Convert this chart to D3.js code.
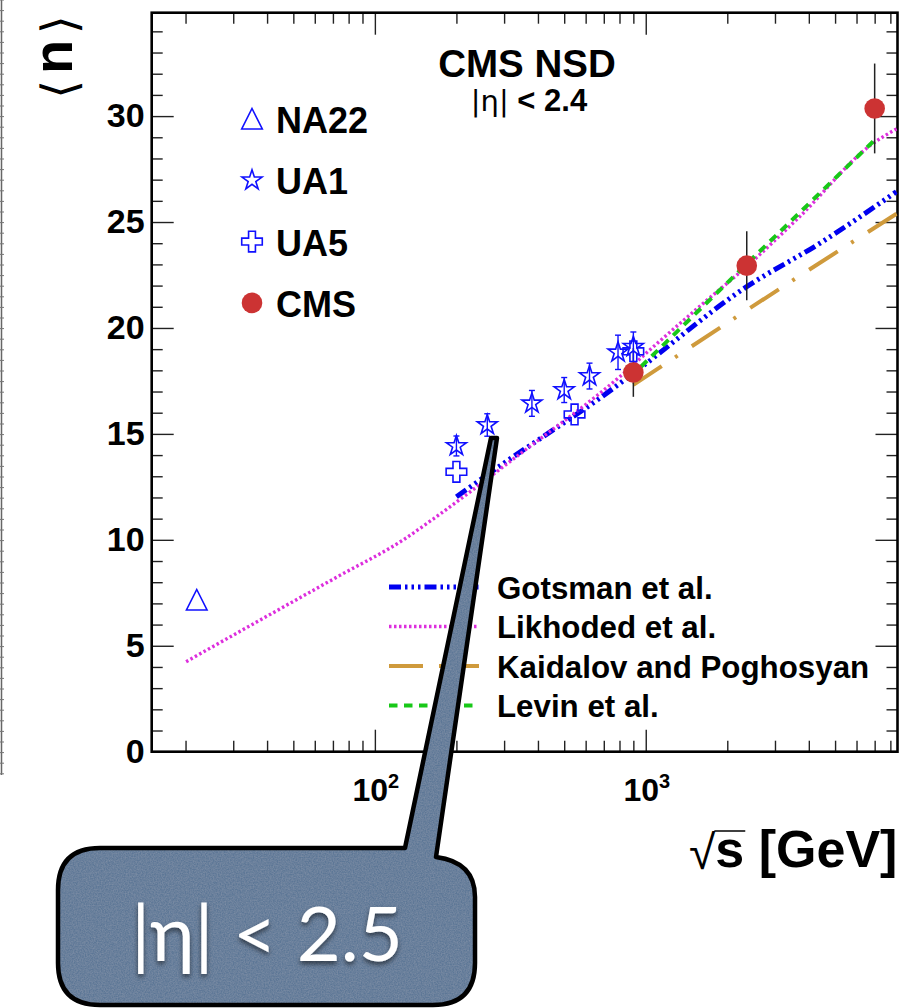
<!DOCTYPE html>
<html>
<head>
<meta charset="utf-8">
<script src="https://cdn.jsdelivr.net/npm/d3@7"></script>
<style>
body { margin: 0; background: #fff; }
svg { display: block; }
text { font-family: "Liberation Sans", Arial, Helvetica, sans-serif; }
</style>
</head>
<body>
<script>
// measurements, <n> vs sqrt(s) [GeV]
var na22Energy = [22];
var na22Mult = [7.16];

var ua1Energy = [200, 260, 380, 500, 620, 790, 900];
var ua1Mult = [14.43, 15.42, 16.44, 17.07, 17.73, 18.85, 19.11];
var ua1Err = [0.47, 0.53, 0.61, 0.59, 0.61, 0.81, 0.7];

var ua5Energy = [200, 546, 900];
var ua5Mult = [13.21, 15.92, 18.9];

var cmsEnergy = [900, 2360, 7000];
var cmsMult = [17.9, 22.94, 30.36];
var cmsErr = [1.15, 1.63, 2.12];

// model curves, [sqrt(s), <n>]
var gotsmanCurve = [[200, 12.03], [324, 13.92], [418, 14.87], [676, 16.68], [900, 17.86],
    [2352, 21.94], [4385, 23.99], [8420, 26.43]];
var likhodedCurve = [[20.1, 4.25], [42, 6.55], [74, 8.31], [127, 9.99], [164, 10.98],
    [343, 14.05], [802, 17.7], [1064, 19.1], [1626, 21.15], [2352, 22.89],
    [3698, 25.25], [6900, 28.71], [8500, 29.42]];
var kaidalovCurve = [[900, 17.31], [2420, 20.93], [8500, 25.42]];
var levinCurve = [[960, 18.17], [2350, 23.0], [7000, 28.87]];

var xMajorTicks = [100, 1000];
var xMinorTicks = [20, 30, 40, 50, 60, 70, 80, 90, 200, 300, 400, 500, 600, 700, 800, 900,
    2000, 3000, 4000, 5000, 6000, 7000, 8000];
var yLabelTicks = [0, 5, 10, 15, 20, 25, 30];

var markerLegend = ["NA22", "UA1", "UA5", "CMS"];
var modelLegend = ["Gotsman et al.", "Likhoded et al.", "Kaidalov and Poghosyan", "Levin et al."];

var _width = 908, _height = 1008,
    _margins = {top: 12.7, left: 151.7, right: 10.5, bottom: 256.3};

var blue = "#1010ff", red = "#cc3333";

var modelStyles = [
    {color: "#0000f0", width: 5, dash: "12,4,2.5,4,2.5,4,2.5,4"},
    {color: "#dd2edd", width: 3.4, dash: "2.5,2.5"},
    {color: "#cf9a3c", width: 4, dash: "34,16,3,17"},
    {color: "#18c818", width: 4, dash: "8.5,6.5"}
];
var modelCurves = [gotsmanCurve, likhodedCurve, kaidalovCurve, levinCurve];

function xStart() { return _margins.left; }
function xEnd() { return _width - _margins.right; }
function yStart() { return _height - _margins.bottom; }
function yEnd() { return _margins.top; }

var x = d3.scaleLog().domain([15, 8500]).range([xStart(), xEnd()]);
var y = d3.scaleLinear().domain([0, 34.88]).range([yStart(), yEnd()]);

var svg = d3.select("body").append("svg")
    .attr("width", _width)
    .attr("height", _height);

var defs = svg.append("defs");

defs.append("clipPath")
    .attr("id", "body-clip")
    .append("rect")
    .attr("x", xStart())
    .attr("y", yEnd())
    .attr("width", xEnd() - xStart())
    .attr("height", yStart() - yEnd());

var grain = defs.append("filter").attr("id", "grain")
    .attr("x", 0).attr("y", 0).attr("width", 1).attr("height", 1);
grain.append("feTurbulence")
    .attr("type", "fractalNoise")
    .attr("baseFrequency", 0.75)
    .attr("numOctaves", 2)
    .attr("seed", 3)
    .attr("result", "noise");
grain.append("feColorMatrix")
    .attr("in", "noise")
    .attr("type", "matrix")
    .attr("values", "0 0 0 0 1  0 0 0 0 1  0 0 0 0 1  0 0 0 0.16 -0.04")
    .attr("result", "speck");
grain.append("feComposite")
    .attr("in", "speck").attr("in2", "SourceGraphic")
    .attr("operator", "in").attr("result", "speckIn");
var gm = grain.append("feMerge");
gm.append("feMergeNode").attr("in", "SourceGraphic");
gm.append("feMergeNode").attr("in", "speckIn");

var shadow = defs.append("filter").attr("id", "txtShadow")
    .attr("x", "-10%").attr("y", "-20%").attr("width", "120%").attr("height", "150%");
shadow.append("feDropShadow")
    .attr("dx", 0).attr("dy", 3).attr("stdDeviation", 2.5)
    .attr("flood-color", "#000").attr("flood-opacity", 0.55);

// leftover edge of the neighbouring panel
var edgeG = svg.append("g").attr("class", "edge");
edgeG.append("line")
    .attr("x1", 1.5).attr("x2", 1.5).attr("y1", 0).attr("y2", 775)
    .attr("stroke", "#666").attr("stroke-width", 1.5);
edgeG.selectAll("line.etick").data(d3.range(0, 775, 10.6))
    .enter().append("line")
    .attr("class", "etick")
    .attr("x1", 0).attr("x2", 4)
    .attr("y1", function(d) { return d; })
    .attr("y2", function(d) { return d; })
    .attr("stroke", "#777").attr("stroke-width", 1);

renderAxes();
renderCurves();
renderPoints();
renderLegends();
renderTexts();
renderCallout();

function renderAxes() {
    var axesG = svg.append("g").attr("class", "axes");

    function tickStyle(g) {
        g.select(".domain").remove();
        g.selectAll(".tick line").attr("stroke", "#222").attr("stroke-width", 1.4);
    }

    // x ticks, bottom and top
    axesG.append("g")
        .attr("transform", "translate(0," + yStart() + ")")
        .call(d3.axisBottom(x).tickValues(xMinorTicks).tickSize(-11).tickFormat(""))
        .call(tickStyle);
    axesG.append("g")
        .attr("transform", "translate(0," + yStart() + ")")
        .call(d3.axisBottom(x).tickValues(xMajorTicks).tickSize(-22).tickFormat(""))
        .call(tickStyle);
    axesG.append("g")
        .attr("transform", "translate(0," + yEnd() + ")")
        .call(d3.axisTop(x).tickValues(xMinorTicks).tickSize(-11).tickFormat(""))
        .call(tickStyle);
    axesG.append("g")
        .attr("transform", "translate(0," + yEnd() + ")")
        .call(d3.axisTop(x).tickValues(xMajorTicks).tickSize(-22).tickFormat(""))
        .call(tickStyle);

    // y ticks, left and right
    var yMinor = d3.range(1, 35).filter(function(d) { return d % 5 !== 0; });
    axesG.append("g")
        .attr("transform", "translate(" + xStart() + ",0)")
        .call(d3.axisLeft(y).tickValues(yMinor).tickSize(-11).tickFormat(""))
        .call(tickStyle);
    axesG.append("g")
        .attr("transform", "translate(" + xEnd() + ",0)")
        .call(d3.axisRight(y).tickValues(yMinor).tickSize(-11).tickFormat(""))
        .call(tickStyle);
    axesG.append("g")
        .attr("transform", "translate(" + xEnd() + ",0)")
        .call(d3.axisRight(y).tickValues(yLabelTicks).tickSize(-22).tickFormat(""))
        .call(tickStyle);

    var yAxisG = axesG.append("g")
        .attr("transform", "translate(" + xStart() + ",0)")
        .call(d3.axisLeft(y).tickValues(yLabelTicks).tickSize(-22).tickPadding(7))
        .call(tickStyle);
    yAxisG.selectAll(".tick text")
        .attr("fill", "#000")
        .style("font-family", "'Liberation Sans', Arial, sans-serif")
        .style("font-weight", "bold")
        .style("font-size", "34px");

    // x labels 10^2, 10^3
    var xl = axesG.selectAll("text.xlab").data(xMajorTicks)
        .enter().append("text")
        .attr("class", "xlab")
        .attr("x", function(d) { return x(d) + 1; })
        .attr("y", 801)
        .attr("text-anchor", "middle")
        .style("font-weight", "bold")
        .style("font-size", "32px");
    xl.append("tspan").text("10");
    xl.append("tspan")
        .attr("dy", -13)
        .style("font-size", "20px")
        .text(function(d) { return String(Math.round(Math.log10(d))); });

    // frame
    axesG.append("rect")
        .attr("x", xStart()).attr("y", yEnd())
        .attr("width", xEnd() - xStart())
        .attr("height", yStart() - yEnd())
        .attr("fill", "none")
        .attr("stroke", "#000")
        .attr("stroke-width", 2.6);
}

function renderCurves() {
    var bodyG = svg.append("g")
        .attr("class", "body")
        .attr("clip-path", "url(#body-clip)");
    var line = d3.line()
        .x(function(d) { return x(d[0]); })
        .y(function(d) { return y(d[1]); })
        .curve(d3.curveMonotoneX);

    bodyG.selectAll("path.model").data(modelCurves)
        .enter().append("path")
        .attr("class", "model")
        .attr("d", line)
        .attr("fill", "none")
        .attr("stroke", function(d, i) { return modelStyles[i].color; })
        .attr("stroke-width", function(d, i) { return modelStyles[i].width; })
        .attr("stroke-dasharray", function(d, i) { return modelStyles[i].dash; });
}

function starPath() {
    return d3.symbol().type(d3.symbolStar).size(124)();
}
function crossPath() {
    return d3.symbol().type(d3.symbolCross).size(235)();
}
function trianglePath() {
    return "M0,-10.5L10.3,10L-10.3,10Z";
}

function renderPoints() {
    var ptG = svg.append("g").attr("class", "points");

    // CMS error bars
    ptG.selectAll("line.cmsErr").data(cmsEnergy)
        .enter().append("line")
        .attr("class", "cmsErr")
        .attr("x1", function(d) { return x(d); })
        .attr("x2", function(d) { return x(d); })
        .attr("y1", function(d, i) { return y(cmsMult[i] - cmsErr[i]); })
        .attr("y2", function(d, i) { return y(cmsMult[i] + cmsErr[i]); })
        .attr("stroke", "#222").attr("stroke-width", 1.5);

    // UA5 open crosses
    ptG.selectAll("path.ua5").data(ua5Energy)
        .enter().append("path")
        .attr("class", "ua5")
        .attr("d", crossPath())
        .attr("transform", function(d, i) { return "translate(" + x(d) + "," + y(ua5Mult[i]) + ")"; })
        .attr("fill", "none").attr("stroke", blue).attr("stroke-width", 1.6);

    // UA1 error bars with caps
    ua1Energy.forEach(function(e, i) {
        var cx = x(e), y1 = y(ua1Mult[i] - ua1Err[i]), y2 = y(ua1Mult[i] + ua1Err[i]);
        ptG.append("line").attr("x1", cx).attr("x2", cx).attr("y1", y1).attr("y2", y2)
            .attr("stroke", blue).attr("stroke-width", 1.4);
        [y1, y2].forEach(function(yy) {
            ptG.append("line").attr("x1", cx - 3).attr("x2", cx + 3).attr("y1", yy).attr("y2", yy)
                .attr("stroke", blue).attr("stroke-width", 1.4);
        });
    });

    // UA1 open stars
    ptG.selectAll("path.ua1").data(ua1Energy)
        .enter().append("path")
        .attr("class", "ua1")
        .attr("d", starPath())
        .attr("transform", function(d, i) { return "translate(" + x(d) + "," + y(ua1Mult[i]) + ")"; })
        .attr("fill", "none").attr("stroke", blue).attr("stroke-width", 1.6);

    // NA22 open triangle
    ptG.selectAll("path.na22").data(na22Energy)
        .enter().append("path")
        .attr("class", "na22")
        .attr("d", trianglePath())
        .attr("transform", function(d, i) { return "translate(" + x(d) + "," + y(na22Mult[i]) + ")"; })
        .attr("fill", "none").attr("stroke", blue).attr("stroke-width", 1.6);

    // CMS filled circles
    ptG.selectAll("circle.cms").data(cmsEnergy)
        .enter().append("circle")
        .attr("class", "cms")
        .attr("cx", function(d) { return x(d); })
        .attr("cy", function(d, i) { return y(cmsMult[i]); })
        .attr("r", 10.3)
        .attr("fill", red);
}

function renderLegends() {
    var legG = svg.append("g").attr("class", "legend");
    var shapes = [trianglePath(), starPath(), crossPath(), null];

    markerLegend.forEach(function(name, i) {
        var yy = 120 + i * 61.3;
        if (shapes[i]) {
            legG.append("path")
                .attr("d", shapes[i])
                .attr("transform", "translate(252," + (yy - 1) + ")")
                .attr("fill", "none").attr("stroke", blue).attr("stroke-width", 1.6);
        } else {
            legG.append("circle").attr("cx", 252).attr("cy", yy - 1).attr("r", 10.3).attr("fill", red);
        }
        legG.append("text")
            .attr("x", 276).attr("y", yy + 13)
            .style("font-weight", "bold").style("font-size", "36px")
            .text(name);
    });

    var lineY = [587, 626.5, 666, 705.5];
    modelLegend.forEach(function(name, i) {
        var st = modelStyles[i];
        legG.append("line")
            .attr("x1", 389).attr("x2", 479)
            .attr("y1", lineY[i]).attr("y2", lineY[i])
            .attr("stroke", st.color)
            .attr("stroke-width", st.width)
            .attr("stroke-dasharray", st.dash);
        legG.append("text")
            .attr("x", 497).attr("y", lineY[i] + 11.5)
            .style("font-weight", "bold").style("font-size", "31.3px")
            .text(name);
    });
}

function renderTexts() {
    svg.append("text")
        .attr("x", 527).attr("y", 77)
        .attr("text-anchor", "middle")
        .style("font-weight", "bold").style("font-size", "38.5px")
        .text("CMS NSD");

    var sub = svg.append("text")
        .attr("x", 529).attr("y", 111)
        .attr("text-anchor", "middle")
        .style("font-size", "31px");
    sub.append("tspan").style("font-family", "'DejaVu Sans', sans-serif").style("font-size", "29px").text("|η|");
    sub.append("tspan").style("font-weight", "bold").text(" < 2.4");

    // y title  < n >
    var yt = svg.append("text")
        .attr("transform", "translate(72,57) rotate(-90)")
        .attr("text-anchor", "middle");
    yt.append("tspan")
        .style("font-family", "'DejaVu Sans', sans-serif")
        .style("font-size", "48px")
        .attr("dy", 4)
        .text("⟨");
    yt.append("tspan")
        .style("font-weight", "bold").style("font-size", "56px")
        .attr("dx", 6).attr("dy", -4)
        .text("n");
    yt.append("tspan")
        .style("font-family", "'DejaVu Sans', sans-serif")
        .style("font-size", "48px")
        .attr("dx", 6).attr("dy", 4)
        .text("⟩");

    // x title  sqrt(s) [GeV]
    var rad = svg.append("text")
        .attr("x", 689).attr("y", 869)
        .style("font-size", "48px")
        .text("√");
    var radW = rad.node().getComputedTextLength();
    var xt = svg.append("text")
        .attr("x", 689 + radW).attr("y", 867)
        .style("font-weight", "bold").style("font-size", "52px");
    var sSpan = xt.append("tspan").text("s");
    xt.append("tspan").text(" [GeV]");
    var sW = sSpan.node().getComputedTextLength();
    svg.append("line")
        .attr("x1", 689 + radW - 1).attr("x2", 689 + radW + sW + 1)
        .attr("y1", 831).attr("y2", 831)
        .attr("stroke", "#000").attr("stroke-width", 1.5);
}

function renderCallout() {
    var p = d3.path();
    p.moveTo(405, 848);
    p.lineTo(491, 438);
    p.lineTo(497, 438);
    p.lineTo(436, 857);
    p.quadraticCurveTo(475, 862, 475, 897);
    p.lineTo(475, 963);
    p.quadraticCurveTo(475, 1005, 433, 1005);
    p.lineTo(100, 1005);
    p.quadraticCurveTo(58, 1005, 58, 963);
    p.lineTo(58, 890);
    p.quadraticCurveTo(58, 848, 100, 848);
    p.closePath();

    var cg = svg.append("g").attr("class", "callout");
    cg.append("path")
        .attr("d", p.toString())
        .attr("fill", "#5d7796")
        .attr("filter", "url(#grain)");
    cg.append("path")
        .attr("d", p.toString())
        .attr("fill", "none")
        .attr("stroke", "#000")
        .attr("stroke-width", 4.5)
        .attr("stroke-linejoin", "round");

    cg.append("text")
        .attr("x", 267).attr("y", 961)
        .attr("text-anchor", "middle")
        .attr("fill", "#fff")
        .attr("filter", "url(#txtShadow)")
        .style("font-family", "Lato, 'Open Sans', sans-serif")
        .style("font-size", "76px")
        .text("|η| < 2.5");
}
</script>
</body>
</html>
